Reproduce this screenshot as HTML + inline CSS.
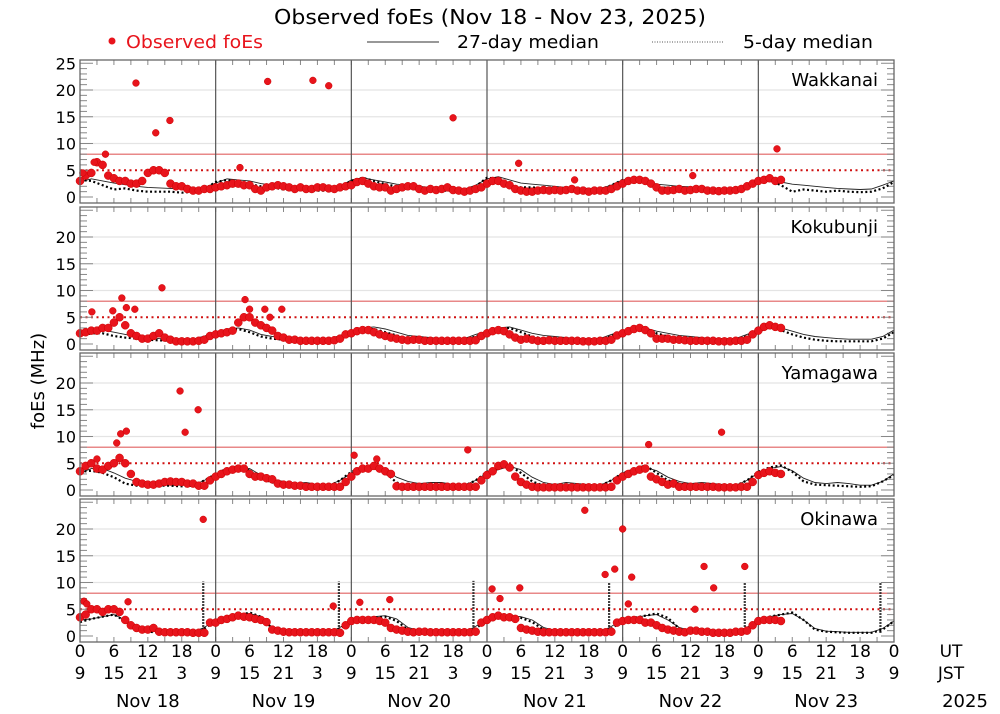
<!DOCTYPE html>
<html><head><meta charset="utf-8">
<style>
html,body{margin:0;padding:0;background:#fff;}
svg{display:block;font-family:"DejaVu Sans","Liberation Sans",sans-serif;}
</style></head>
<body>
<svg id="chart" width="1000" height="714" viewBox="0 0 1000 714" xmlns="http://www.w3.org/2000/svg">
<text x="490" y="24" font-size="20" text-anchor="middle" textLength="432" lengthAdjust="spacingAndGlyphs">Observed foEs (Nov 18 - Nov 23, 2025)</text>
<g>
<circle cx="112" cy="41" r="3.5" fill="#e8141c"/>
<text x="126" y="48" font-size="18" fill="#e8141c" textLength="137" lengthAdjust="spacingAndGlyphs">Observed foEs</text>
<line x1="367" y1="42" x2="439" y2="42" stroke="#777" stroke-width="1.5"/>
<text x="457" y="48" font-size="18" textLength="142" lengthAdjust="spacingAndGlyphs">27-day median</text>
<line x1="652" y1="42" x2="723" y2="42" stroke="#555" stroke-width="1" stroke-dasharray="1,1.5"/>
<text x="743" y="48" font-size="18" textLength="130" lengthAdjust="spacingAndGlyphs">5-day median</text>
</g>
<text x="0" y="0" font-size="18" text-anchor="middle" transform="translate(44,381) rotate(-90)">foEs (MHz)</text>
<g id="panels"></g>
<g id="xaxis"></g>
</svg>
<script>
// ---- data (values in MHz; hours UT from Nov 18 00UT) ----
const stations = ["Wakkanai","Kokubunji","Yamagawa","Okinawa"];
const dayLabels = ["Nov 18","Nov 19","Nov 20","Nov 21","Nov 22","Nov 23"];
const utTicks = ["0","6","12","18"];
const jstTicks = ["9","15","21","3"];
const yTickLabels = [0,5,10,15,20,25];
// 27-day medians, 2-hour steps (0..144h)
const wakM27 = [2.8,3.4,3.0,2.6,2.3,2.0,1.8,1.7,1.6,1.5,1.4,1.8, 2.6,3.4,3.2,3.0,2.5,2.2,1.9,1.7,1.6,1.5,1.5,2.0, 3.2,3.6,3.2,2.8,2.4,2.2,2.0,1.8,1.6,1.6,1.5,2.2, 3.4,3.8,3.2,2.6,2.4,2.2,2.0,1.8,1.7,1.6,1.6,2.2, 3.2,3.6,3.2,2.4,2.2,2.0,1.9,1.7,1.6,1.5,1.5,2.2, 3.2,3.4,2.8,2.4,2.2,2.0,1.8,1.6,1.5,1.4,1.5,2.2,3.0];
const wakM5 = [3.2,3.0,2.2,1.4,1.6,1.2,1.0,1.0,1.0,0.8,1.0,1.5, 2.8,3.2,2.8,2.4,2.0,1.8,1.4,1.4,1.2,1.2,1.2,1.8, 3.0,3.6,3.0,2.4,2.0,1.8,1.6,1.4,1.2,1.2,1.2,2.0, 3.6,3.4,2.2,1.8,1.8,1.6,1.6,1.4,1.2,1.2,1.4,2.2, 3.2,3.4,2.8,1.6,1.8,1.4,1.4,1.2,1.2,1.2,1.4,2.2, 3.0,3.2,2.2,1.0,1.4,1.2,1.0,1.2,1.0,0.9,1.0,1.6,2.8];
const kokM27 = [2.2,2.8,2.6,2.2,1.8,1.4,1.2,1.0,0.9,0.9,0.9,1.5, 2.2,2.8,3.0,2.6,1.8,1.4,1.2,1.0,1.0,0.9,0.9,1.6, 2.4,3.0,3.2,2.8,2.2,1.6,1.4,1.2,1.0,1.0,1.0,1.8, 2.4,3.0,3.2,2.6,2.0,1.6,1.4,1.2,1.0,1.0,1.0,1.8, 2.4,3.0,3.0,2.4,2.0,1.6,1.4,1.2,1.0,1.0,1.0,1.8, 2.6,3.2,3.0,2.4,1.8,1.4,1.2,1.0,0.9,0.9,0.9,1.4,2.6];
const kokM5 = [1.5,2.0,2.0,1.5,1.2,1.0,0.8,0.7,0.6,0.6,0.7,1.2, 2.0,2.6,2.8,2.2,1.4,1.0,0.8,0.6,0.6,0.6,0.6,1.2, 2.2,2.8,2.8,2.2,1.6,1.0,0.8,0.6,0.6,0.6,0.7,1.4, 2.2,2.8,3.0,2.2,1.4,1.0,0.8,0.6,0.6,0.6,0.7,1.5, 2.2,2.8,2.8,2.0,1.4,1.0,0.8,0.6,0.6,0.6,0.7,1.5, 2.4,3.0,2.6,1.8,1.2,0.8,0.6,0.5,0.5,0.5,0.5,1.0,2.2];
const yamM27 = [3.2,4.0,4.0,3.2,2.2,1.6,1.2,1.0,0.9,0.9,0.9,1.8, 3.0,3.6,4.2,4.0,2.8,2.0,1.6,1.2,1.4,1.0,0.9,1.8, 3.2,3.8,4.2,3.8,2.4,1.6,1.2,1.4,1.4,1.0,0.9,1.8, 3.2,3.8,4.4,3.8,2.4,1.4,1.0,1.4,1.2,1.0,0.9,1.8, 3.2,3.8,4.2,3.6,2.4,1.6,1.2,1.4,1.2,1.0,0.9,1.8, 3.2,4.0,4.4,3.6,2.2,1.4,1.2,1.4,1.2,0.9,0.9,1.6,3.0];
const yamM5 = [3.4,3.6,3.2,2.4,1.2,0.8,0.8,0.8,0.8,0.7,0.8,1.8, 3.0,4.0,4.4,3.6,2.2,1.4,1.2,0.8,0.8,0.7,0.7,1.8, 3.4,4.0,4.2,3.2,1.4,0.8,0.8,0.8,0.8,0.7,0.8,1.8, 3.4,4.0,4.6,3.2,1.6,0.8,0.8,0.8,0.7,0.7,0.8,1.8, 3.2,3.8,4.6,3.2,1.8,1.2,0.9,0.8,0.7,0.7,0.8,1.8, 3.4,4.2,4.6,3.4,1.6,1.0,0.9,0.8,0.7,0.6,0.7,1.6,2.8];
const okiM27 = [3.0,3.2,3.6,4.0,3.0,1.6,1.0,0.8,0.7,0.7,0.7,1.6, 3.0,3.4,3.8,4.2,3.6,1.6,1.0,0.8,0.8,0.7,0.7,1.6, 3.0,3.4,3.6,3.8,3.2,1.6,1.0,0.8,0.7,0.7,0.7,1.8, 3.2,3.6,3.8,3.6,3.0,1.6,1.0,0.8,0.7,0.7,0.7,1.8, 3.0,3.4,3.8,4.0,3.0,1.6,1.0,0.8,0.7,0.7,0.7,1.6, 3.2,3.6,4.0,4.2,3.0,1.4,0.9,0.8,0.7,0.7,0.7,1.4,2.8];
const okiM5 = [2.6,3.2,3.6,4.0,2.8,1.2,0.8,0.7,0.6,0.6,0.6,1.4, 2.8,3.4,3.8,4.4,3.6,1.4,0.8,0.6,0.6,0.6,0.6,1.4, 2.8,3.2,3.4,3.6,2.8,1.2,0.8,0.6,0.6,0.6,0.6,1.4, 3.0,3.6,3.8,3.4,2.6,1.2,0.8,0.7,0.6,0.6,0.6,1.4, 2.8,3.4,3.8,4.2,3.4,1.4,0.8,0.6,0.6,0.6,0.6,1.4, 3.0,3.6,4.0,4.4,3.0,1.2,0.8,0.7,0.6,0.6,0.6,1.2,2.8];
const okiM5SpikeHours = [21.8,45.8,69.6,93.6,117.6,141.6];
const okiM5SpikeValues = [10.2,10.2,10.3,10.0,10.0,10.0];
// Observed, hourly from 0h
const wakObs = [3,4,4.5,6.5,6,4,3.5,3,3,2.5,2.5,3,4.5,5,5,4.5,2.5,2,2,1.5,1.2,1.2,1.5,1.5, 1.8,2,2.2,2.5,2.5,2.2,2.2,1.5,1.2,1.8,2,2.2,2,1.8,1.5,1.8,1.5,1.5,1.8,1.8,1.6,1.5,1.8,2.0, 2.2,2.8,3,2.5,2,1.8,1.8,1.2,1.5,1.8,2,2,1.5,1.2,1.5,1.3,1.5,1.8,1.3,1.2,1.0,1.2,1.5,1.8, 2.5,3,3,2.5,2.2,1.5,1.2,1.0,1.0,1.2,1.3,1.2,1.3,1.2,1.3,1.5,1.2,1.2,1.0,1.2,1.2,1.2,1.5,2.0, 2.5,3,3.2,3.2,3,2.5,1.8,1.2,1.2,1.3,1.5,1.2,1.3,1.5,1.5,1.2,1.2,1.1,1.2,1.2,1.3,1.5,2,2.5, 3,3.2,3.5,3.0,3.2];
const kokObs = [2,2.2,2.5,2.5,3,3,4,5,3.5,2,1.5,1,1,1.5,2,1.2,0.8,0.5,0.5,0.5,0.5,0.6,0.8,1.5, 1.8,2,2.2,2.5,4,5,5,4,3.5,3,2.5,1.5,1.2,0.8,0.8,0.6,0.6,0.6,0.6,0.6,0.6,0.7,1.0,1.8, 2,2.4,2.6,2.6,2.2,1.8,1.5,1.2,1.0,0.8,0.7,0.8,0.8,0.6,0.6,0.6,0.6,0.6,0.6,0.6,0.6,0.6,0.7,1.5, 2,2.4,2.6,2.4,1.8,1.2,0.8,1.0,0.8,0.6,0.6,0.7,0.6,0.6,0.6,0.6,0.6,0.5,0.5,0.5,0.6,0.6,0.8,1.6, 2,2.4,2.8,3.0,2.6,2.0,1.0,1.0,1.0,0.8,0.8,0.7,0.6,0.6,0.6,0.6,0.6,0.5,0.5,0.5,0.6,0.6,0.8,1.8, 2.5,3.2,3.5,3.2,3];
const yamObs = [3.5,4.5,5,4,3.8,4.5,5,6,5,3,1.5,1.2,1,1,1.2,1.5,1.6,1.5,1.5,1.2,1.2,0.8,0.8,1.8, 2.5,3,3.5,3.8,4,4,3,2.5,2.5,2.2,2,1.2,1,1,0.8,0.8,0.6,0.6,0.6,0.6,0.6,0.6,0.6,1.5, 2.5,3.5,4,4,4.5,4,3.5,3,0.7,0.6,0.6,0.6,0.6,0.6,0.6,0.6,0.6,0.6,0.6,0.6,0.6,0.6,0.6,1.8, 2.8,3.5,4.5,4.8,4.2,2.5,1.5,1.0,0.6,0.5,0.5,0.5,0.5,0.5,0.5,0.5,0.5,0.5,0.5,0.5,0.5,0.5,0.6,1.8, 2.5,3,3.5,3.8,4,2.5,2,1.5,1.0,1.2,0.6,0.6,0.6,0.6,0.6,0.6,0.6,0.5,0.5,0.5,0.5,0.6,0.6,1.5, 2.8,3.2,3.5,3.2,3.0];
const okiObs = [3.5,4,5,5,4.5,5,5,4.5,3,2,1.5,1.2,1.2,1.5,0.8,0.7,0.7,0.7,0.7,0.7,0.6,0.6,0.6,2.5, 2.5,3,3.2,3.5,3.8,3.6,3.5,3.2,3,2.6,1.2,1,0.8,0.7,0.7,0.7,0.7,0.7,0.7,0.7,0.7,0.7,0.6,2.0, 2.8,3.0,3.0,3.0,3.0,2.8,2.5,1.5,1.2,1,0.8,0.7,0.8,0.8,0.7,0.7,0.7,0.7,0.7,0.7,0.7,0.7,0.8,2.5, 3,3.5,3.8,3.5,3.5,3.2,1.5,1.2,1,0.8,0.7,0.7,0.7,0.7,0.7,0.7,0.7,0.7,0.7,0.7,0.7,0.7,0.8,2.5, 2.8,3,3,3,2.5,2.5,2,1.5,1.2,1.0,0.8,0.7,1.0,1.0,0.8,0.8,0.6,0.6,0.6,0.6,0.8,0.8,1.0,2.0, 2.8,3,3,3,2.8];
// Outliers: hours and values
const wakOutHours = [0.5,2.5,4.5,9.9,13.4,15.9,28.3,33.2,41.2,44.0,66.0,77.6,87.5,108.4,123.3];
const wakOutValues = [4.5,6.5,8.0,21.3,12.0,14.3,5.5,21.6,21.8,20.8,14.8,6.3,3.2,4.0,9.0];
const kokOutHours = [2.1,5.8,7.4,8.2,9.7,14.5,29.2,30.0,32.7,33.6,35.7];
const kokOutValues = [6.0,6.2,8.6,6.8,6.5,10.5,8.3,6.5,6.5,5.0,6.5];
const yamOutHours = [3.0,6.5,7.2,8.2,17.7,18.6,20.9,48.5,52.5,68.6,100.6,113.5];
const yamOutValues = [5.8,8.8,10.5,11.0,18.5,10.8,15.0,6.5,5.8,7.5,8.5,10.8];
const okiOutHours = [0.7,1.2,8.5,21.8,44.8,49.5,54.8,72.9,74.3,77.8,89.3,92.9,94.6,96.0,97.0,97.6,108.8,110.4,112.1,117.6];
const okiOutValues = [6.5,6.0,6.4,21.8,5.6,6.3,6.8,8.8,7.0,9.0,23.5,11.5,12.5,20.0,6.0,11.0,5.0,13.0,9.0,13.0];
const solidThreshold = 8, dottedThreshold = 5;
const gridValues = [10,15,20];

const stationData = [
 {m27:wakM27,m5:wakM5,obs:wakObs,oh:wakOutHours,ov:wakOutValues},
 {m27:kokM27,m5:kokM5,obs:kokObs,oh:kokOutHours,ov:kokOutValues},
 {m27:yamM27,m5:yamM5,obs:yamObs,oh:yamOutHours,ov:yamOutValues},
 {m27:okiM27,m5:okiM5,obs:okiObs,oh:okiOutHours,ov:okiOutValues,sh:okiM5SpikeHours,sv:okiM5SpikeValues}
];

// ---- layout ----
const NS="http://www.w3.org/2000/svg";
const X0=80, X1=894, HOURS=144;
const panelTops=[60,207,353,499], PH=143, PPU=5.35;
function xs(h){return X0+(X1-X0)*h/HOURS;}
function mk(tag,attrs,parent){const e=document.createElementNS(NS,tag);for(const k in attrs)e.setAttribute(k,attrs[k]);parent.appendChild(e);return e;}
const panels=document.getElementById('panels');

stationData.forEach((d,p)=>{
  const top=panelTops[p], bot=top+PH;
  const ys=v=>top+137-v*PPU;
  const g=mk('g',{},panels);
  
  
  gridValues.forEach(v=>{
    const l=mk('line',{x1:X0,x2:X1,y1:ys(v),y2:ys(v),stroke:'#e4e4e4','stroke-width':1.2},g);
    
    
  });
  const t1=mk('line',{x1:X0,x2:X1,y1:ys(solidThreshold),y2:ys(solidThreshold),stroke:'#e06060','stroke-width':1.2},g);
  
  
  const t2=mk('line',{x1:X0,x2:X1,y1:ys(dottedThreshold),y2:ys(dottedThreshold),stroke:'#d01010','stroke-width':2,'stroke-dasharray':'2,3.5'},g);
  
  
  for(let v=-1;v<=25;v++){
    const y=ys(v); if(y<top+1||y>bot-1) continue;
    const len=(v%5===0)?13:7;
    mk('line',{x1:X0,x2:X0+len,y1:y,y2:y,stroke:'#888','stroke-width':1},g);
    mk('line',{x1:X1-len,x2:X1,y1:y,y2:y,stroke:'#888','stroke-width':1},g);
  }
  for(let h=3;h<HOURS;h+=3){
    mk('line',{x1:xs(h),x2:xs(h),y1:top,y2:top+5,stroke:'#888','stroke-width':1},g);
    mk('line',{x1:xs(h),x2:xs(h),y1:bot-5,y2:bot,stroke:'#888','stroke-width':1},g);
  }
  for(let k=1;k<6;k++){
    const l=mk('line',{x1:xs(24*k),x2:xs(24*k),y1:top,y2:bot,stroke:'#555','stroke-width':1.2},g);
    
    
  }
  const p27=d.m27.map((v,i)=>xs(i*2).toFixed(1)+','+ys(v).toFixed(1)).join(' ');
  const l27=mk('polyline',{points:p27,fill:'none',stroke:'#222','stroke-width':0.9},g);
  
  
  const p5=d.m5.map((v,i)=>xs(i*2).toFixed(1)+','+ys(v).toFixed(1)).join(' ');
  const l5=mk('polyline',{points:p5,fill:'none',stroke:'#000','stroke-width':2.2,'stroke-dasharray':'2,2.5'},g);
  
  
  if(d.sh){
    d.sh.forEach((h,i)=>{
      const s=mk('line',{x1:xs(h),x2:xs(h),y1:ys(0.6),y2:ys(d.sv[i]),stroke:'#000','stroke-width':2.2,'stroke-dasharray':'1.5,1.5'},g);
      
      
    });
  }
  d.obs.forEach((v,i)=>{
    const c=mk('circle',{cx:xs(i),cy:ys(v),r:4,fill:'#e8141c',stroke:'#c00',"stroke-width":0.5},g);
    
    
  });
  d.oh.forEach((h,i)=>{
    const c=mk('circle',{cx:xs(h),cy:ys(d.ov[i]),r:3.4,fill:'#e8141c',stroke:'#c00',"stroke-width":0.5},g);
    
    
  });
  const f=mk('rect',{x:X0,y:top,width:X1-X0,height:PH,fill:'none',stroke:'#666','stroke-width':1.3},g);
  
  
  yTickLabels.forEach(v=>{
    if(v===25 && p!==0) return;
    const t=mk('text',{x:76,y:ys(v)+6,'font-size':16,'text-anchor':'end'},g);
    t.textContent=String(v);
    
    
  });
  const st=mk('text',{x:878,y:top+26,'font-size':18,'text-anchor':'end'},g);
  st.textContent=stations[p];
  
  
});

const xa=document.getElementById('xaxis');
for(let k=0;k<=6;k++){
  for(let j=0;j<4;j++){
    if(k===6 && j>0) break;
    const x=xs(k*24+j*6);
    const u=mk('text',{x:x,y:657,'font-size':17,'text-anchor':'middle'},xa);
    u.textContent=utTicks[j];
    
    
    const jt=mk('text',{x:x,y:679,'font-size':17,'text-anchor':'middle'},xa);
    jt.textContent=jstTicks[j];
    
    
  }
}
dayLabels.forEach((d,k)=>{
  const t=mk('text',{x:xs(k*24+12),y:707,'font-size':18,'text-anchor':'middle'},xa);
  t.textContent=d;
  
  
});
[["UT",951,657,17],["JST",951,679,17],["2025",965,707,18]].forEach(a=>{
  const t=mk('text',{x:a[1],y:a[2],'font-size':a[3],'text-anchor':'middle'},xa);
  t.textContent=a[0];
  
  
});
</script>
</body></html>
